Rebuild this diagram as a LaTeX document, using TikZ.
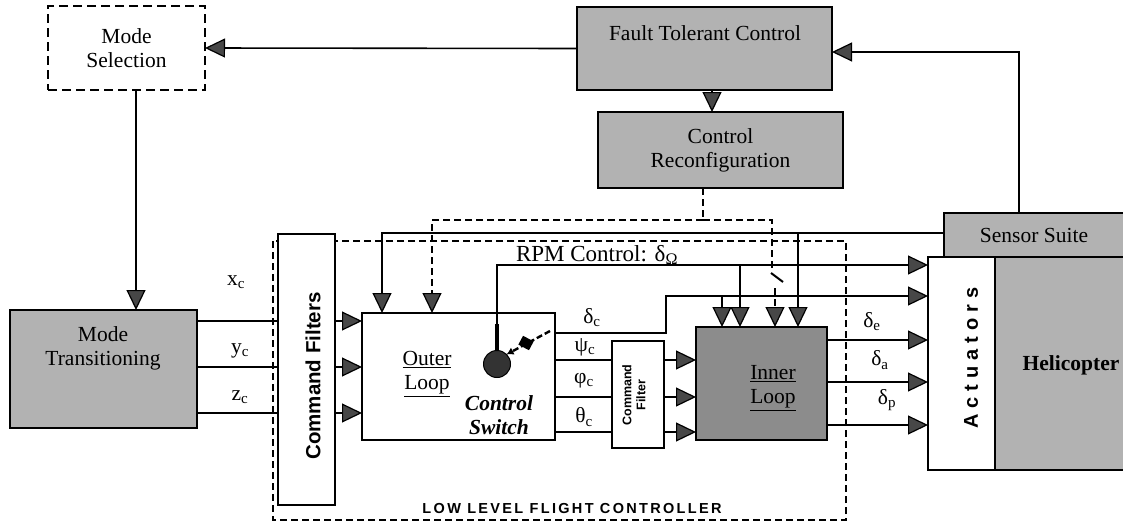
\documentclass[tikz,border=0pt]{standalone}
\usepackage{fontspec}
\setmainfont{Liberation Serif}
\newfontfamily\sansf{Liberation Sans}
\newfontfamily\actfont[LetterSpace=30]{Liberation Sans}
\newfontfamily\llfont[LetterSpace=16]{Liberation Sans}
\usetikzlibrary{arrows.meta,calc}
\newcommand\mysz{\fontsize{21.5}{24}\selectfont}
\begin{document}
\begin{tikzpicture}[x=1pt,y=-1pt,
  every node/.style={inner sep=0pt, outer sep=0pt},
  ln/.style={line width=1.6pt},
  arr/.style={ln, -{Triangle[length=20pt,width=19pt,fill=black!72,line width=1.2pt]}},
  dsh/.style={ln, dash pattern=on 7pt off 4pt},
  box/.style={draw, line width=1.8pt, rectangle, font=\mysz, align=center},
  shaded/.style={box, fill=black!30},
  wbox/.style={box, fill=white},
  lbl/.style={font=\mysz},
]
\useasboundingbox (0,0) rectangle (1123,525);

% low level flight controller frame
\draw[line width=1.6pt, dash pattern=on 7pt off 4pt] (273,241) rectangle (846,520);
\node[font=\llfont\bfseries\fontsize{14.5}{16}\selectfont] (llfc) at (572,508) {LOW LEVEL FLIGHT CONTROLLER};

% boxes
\node[box, line width=1.8pt, dash pattern=on 9pt off 5pt, minimum width=157pt, minimum height=84pt] (modesel) at (126.5,48) {Mode\\Selection};
\node[shaded, minimum width=255pt, minimum height=83pt] (ftc) at (704.5,48.5) {};
\node[lbl] (ftct) at (705,33) {Fault Tolerant Control};
\node[shaded, minimum width=245pt, minimum height=76pt] (creconf) at (720.5,150) {Control\\Reconfiguration};
\node[shaded, minimum width=180pt, minimum height=44pt] (sensor) at (1034,235) {Sensor Suite};
\node[shaded, minimum width=130pt, minimum height=213pt] (heli) at (1060,363.5) {};
\node[lbl, font=\mysz\bfseries] (helit) at (1071,365) {Helicopter};
\node[wbox, minimum width=67pt, minimum height=213pt] (act) at (961.5,363.5) {};
\node[font=\actfont\bfseries\fontsize{20}{22}\selectfont, rotate=90] (actt) at (971,358) {Actuators};
\node[shaded, minimum width=187pt, minimum height=118pt] (modetr) at (103.5,369) {};
\node[lbl, align=center] (modetrt) at (103,348) {Mode\\Transitioning};
\node[wbox, minimum width=57pt, minimum height=271pt] (cmdf) at (306.5,369.5) {};
\node[font=\sansf\bfseries\fontsize{20.5}{22}\selectfont, rotate=90] (cmdft) at (313,376) {Command Filters};
\node[wbox, minimum width=193pt, minimum height=127pt] (outer) at (458.5,376.5) {};
\node[lbl, align=center] (outert) at (427,374) {\underline{Outer}\\\underline{Loop}};
\node[lbl, align=center, font=\mysz\bfseries\itshape] (cswt) at (499,415) {Control\\Switch};
\node[wbox, minimum width=52pt, minimum height=107pt] (cmdf2) at (638,394.5) {};
\node[font=\sansf\bfseries\fontsize{12.5}{14}\selectfont, rotate=90, align=center] (cmdf2t) at (634,395) {Command\\Filter};
\node[box, fill=black!45, minimum width=131pt, minimum height=113pt] (inner) at (761.5,383.5) {};
\node[lbl, align=center] (innert) at (773,388) {\underline{Inner}\\\underline{Loop}};

% control switch symbol
\node[circle, draw, fill=black!80, line width=1pt, minimum size=27pt] (csw) at (497,364) {};
\draw[line width=4pt] (497,324) -- (csw.north);
\draw[line width=2.4pt, dash pattern=on 6pt off 3pt, -{Latex[length=7pt,width=8pt]}] (550,331) -- (csw.north east);
\fill[rotate around={-28:(526,343)}] (520,338) rectangle (532,348);

% helper coordinates
\coordinate (xA) at (382,0);
\coordinate (xB) at (432,0);
\coordinate (xC) at (703,0);
\coordinate (yD) at (0,220);
\coordinate (xF) at (772,0);
\coordinate (ySw) at (0,268);
\coordinate (sw2) at (775,288);
\coordinate (xE) at (798,0);
\coordinate (yR) at (0,265);
\coordinate (xR) at (740,0);
\coordinate (xG) at (666,0);
\coordinate (yG) at (0,296);
\coordinate (yd) at (0,333);
\coordinate (xH) at (722,0);
\coordinate (r1) at (0,321);
\coordinate (r2) at (0,367);
\coordinate (r3) at (0,413);
\coordinate (g1) at (0,360);
\coordinate (g2) at (0,397);
\coordinate (g3) at (0,432);
\coordinate (a1) at (0,340);
\coordinate (a2) at (0,382);
\coordinate (a3) at (0,425);

% connectors
\draw[arr] (ftc.west) -- (modesel.east);
\draw[arr] ([xshift=-15pt]sensor.north) |- ([yshift=-3.5pt]ftc.east);
\draw[arr] ([xshift=7.5pt]ftc.south) -- ([xshift=-8.5pt]creconf.north);
\draw[arr] ([xshift=9.5pt]modesel.south) -- ([xshift=32.5pt]modetr.north);
\foreach \r in {r1,r2,r3}{
  \draw[ln] (modetr.east |- \r) -- (cmdf.west |- \r);
  \draw[arr] (cmdf.east |- \r) -- (outer.west |- \r);
}
\draw[arr] ([yshift=2pt]sensor.west) -| (outer.north -| xA);
\draw[arr] ([yshift=2pt]sensor.west -| xE) -- (inner.north -| xE);
\draw[dsh] (creconf.south -| xC) -- (xC |- yD);
\draw[dsh, arr] (xC |- yD) -| (outer.north -| xB);
\draw[dsh] (xC |- yD) -| (xF |- ySw);
\draw[line width=2pt] (771,273) -- (783,282);
\draw[dsh, arr] (sw2) -- (inner.north -| sw2);
\draw[arr] (csw.north) -- (csw.north |- yR) -- (act.west |- yR);
\draw[arr] (xR |- yR) -- (inner.north -| xR);
\draw[arr] (outer.east |- yd) -| (xG |- yG) -- (act.west |- yG);
\draw[arr] (xH |- yG) -- (inner.north -| xH);
\foreach \g in {g1,g2,g3}{
  \draw[ln] (outer.east |- \g) -- (cmdf2.west |- \g);
  \draw[arr] (cmdf2.east |- \g) -- (inner.west |- \g);
}
\foreach \a in {a1,a2,a3}{
  \draw[arr] (inner.east |- \a) -- (act.west |- \a);
}

% labels
\node[lbl] (lx) at (236,282) {x\textsubscript{c}};
\node[lbl] (ly) at (240,351) {y\textsubscript{c}};
\node[lbl] (lz) at (240,397) {z\textsubscript{c}};
\node[font=\fontsize{23}{26}\selectfont] (rpm) at (597,255) {RPM Control: δ\textsubscript{Ω}};
\node[lbl] (ldc) at (592,318) {δ\textsubscript{c}};
\node[lbl] (lpsi) at (585,347) {ψ\textsubscript{c}};
\node[lbl] (lphi) at (584,381) {φ\textsubscript{c}};
\node[lbl] (lth) at (584,417) {θ\textsubscript{c}};
\node[lbl] (lde) at (872,322) {δ\textsubscript{e}};
\node[lbl] (lda) at (880,360) {δ\textsubscript{a}};
\node[lbl] (ldp) at (887,400) {δ\textsubscript{p}};
\end{tikzpicture}
\end{document}
